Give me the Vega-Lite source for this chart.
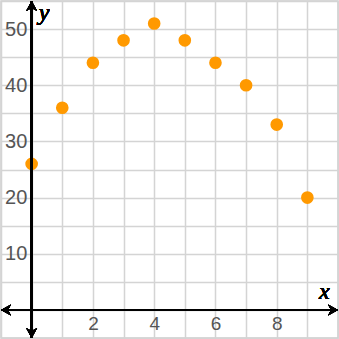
{
  "$schema": "https://vega.github.io/schema/vega-lite/v6.json",
  "width": 339,
  "height": 339,
  "autosize": {"type": "fit", "contains": "padding"},
  "padding": 0,
  "background": "white",
  "config": {
    "view": {"stroke": "#cccccc", "strokeWidth": 1.5},
    "axis": {
      "gridColor": "#d4d4d4",
      "gridWidth": 1.5,
      "gridOpacity": 1,
      "domain": false,
      "ticks": false,
      "title": null,
      "labelFont": "Liberation Sans",
      "labelFontSize": 19,
      "labelColor": "#555555"
    }
  },
  "resolve": {"axis": {"x": "independent", "y": "independent"}},
  "data": {
    "values": [
      {"x": 0, "y": 26},
      {"x": 1, "y": 36},
      {"x": 2, "y": 44},
      {"x": 3, "y": 48},
      {"x": 4, "y": 51},
      {"x": 5, "y": 48},
      {"x": 6, "y": 44},
      {"x": 7, "y": 40},
      {"x": 8, "y": 33},
      {"x": 9, "y": 20}
    ]
  },
  "layer": [
    {
      "mark": {"type": "circle", "size": 160, "color": "#ff9900", "opacity": 1},
      "encoding": {
        "x": {
          "field": "x",
          "type": "quantitative",
          "scale": {"domain": [-1, 10], "nice": false, "zero": false},
          "axis": {
            "values": [-1, 0, 1, 2, 3, 4, 5, 6, 7, 8, 9, 10],
            "labelExpr": "indexof([2,4,6,8], datum.value) >= 0 ? datum.label : ''",
            "offset": -28.5,
            "labelPadding": 5,
            "labelBaseline": "top"
          }
        },
        "y": {
          "field": "y",
          "type": "quantitative",
          "scale": {"domain": [-5, 55], "nice": false, "zero": false},
          "axis": {
            "values": [-5, 0, 5, 10, 15, 20, 25, 30, 35, 40, 45, 50, 55],
            "labelExpr": "indexof([10,20,30,40,50], datum.value) >= 0 ? datum.label : ''",
            "offset": -30.8,
            "labelPadding": 5,
            "labelFontSize": 20
          }
        }
      }
    },
    {
      "mark": {"type": "rule", "color": "black", "strokeWidth": 2},
      "encoding": {"x": {"datum": 0, "type": "quantitative", "axis": null}}
    },
    {
      "mark": {"type": "rule", "color": "black", "strokeWidth": 2},
      "encoding": {"y": {"datum": 0, "type": "quantitative", "axis": null}}
    },
    {
      "mark": {"type": "point", "shape": "M0,0L-1,-0.55L-0.7,0L-1,0.55Z", "filled": true, "color": "black", "opacity": 1, "size": 400, "angle": 0},
      "encoding": {
        "x": {"datum": 10, "type": "quantitative", "axis": null},
        "y": {"datum": 0, "type": "quantitative", "axis": null}
      }
    },
    {
      "mark": {"type": "point", "shape": "M0,0L-1,-0.55L-0.7,0L-1,0.55Z", "filled": true, "color": "black", "opacity": 1, "size": 400, "angle": 180},
      "encoding": {
        "x": {"datum": -1, "type": "quantitative", "axis": null},
        "y": {"datum": 0, "type": "quantitative", "axis": null}
      }
    },
    {
      "mark": {"type": "point", "shape": "M0,0L-1,-0.55L-0.7,0L-1,0.55Z", "filled": true, "color": "black", "opacity": 1, "size": 400, "angle": 270},
      "encoding": {
        "x": {"datum": 0, "type": "quantitative", "axis": null},
        "y": {"datum": 55, "type": "quantitative", "axis": null}
      }
    },
    {
      "mark": {"type": "point", "shape": "M0,0L-1,-0.55L-0.7,0L-1,0.55Z", "filled": true, "color": "black", "opacity": 1, "size": 400, "angle": 90},
      "encoding": {
        "x": {"datum": 0, "type": "quantitative", "axis": null},
        "y": {"datum": -5, "type": "quantitative", "axis": null}
      }
    },
    {
      "mark": {"type": "text", "text": "x", "font": "Liberation Serif", "fontStyle": "italic", "fontSize": 24, "color": "black", "align": "center", "baseline": "bottom", "dy": -6},
      "encoding": {
        "x": {"datum": 9.55, "type": "quantitative", "axis": null},
        "y": {"datum": 0, "type": "quantitative", "axis": null}
      }
    },
    {
      "mark": {"type": "text", "text": "y", "font": "Liberation Serif", "fontStyle": "italic", "fontSize": 24, "color": "black", "align": "left", "baseline": "top", "dx": 7, "dy": 0},
      "encoding": {
        "x": {"datum": 0, "type": "quantitative", "axis": null},
        "y": {"datum": 55, "type": "quantitative", "axis": null}
      }
    }
  ]
}
